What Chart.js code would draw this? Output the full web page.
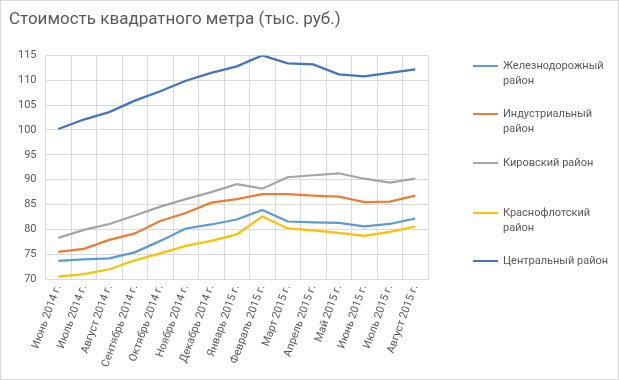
<!DOCTYPE html>
<html>
<head>
<meta charset="utf-8">
<script src="https://cdn.jsdelivr.net/npm/chart.js@4/dist/chart.umd.min.js"></script>
<style>
  html, body { margin: 0; padding: 0; background: #fff; }
  #wrap { position: relative; width: 619px; height: 380px; box-sizing: border-box; border: 1px solid #d9d9d9; background: #fff; overflow: hidden; }
  #cv { position: absolute; left: 0; top: 0; }
  #legend { position: absolute; left: 472px; top: 0; font-family: "Roboto", "Noto Sans", sans-serif; font-size: 11px; color: #595959; }
  .item { position: absolute; left: 0; width: 140px; }
  .item .mk { position: absolute; left: 0; width: 25px; height: 2px; top: 7px; }
  .item .tx { position: absolute; left: 30px; line-height: 15px; width: 112px; white-space: normal; }
</style>
</head>
<body>
<div id="wrap">
  <canvas id="cv" width="617" height="378"></canvas>
  <div id="legend"></div>
</div>
<script>
const categories = ["Июнь 2014 г.", "Июль 2014 г.", "Август 2014 г.", "Сентябрь 2014 г.", "Октябрь 2014 г.", "Ноябрь 2014 г.", "Декабрь 2014 г.", "Январь 2015 г.", "Февраль 2015 г.", "Март 2015 г.", "Апрель 2015 г.", "Май 2015 г.", "Июнь 2015 г.", "Июль 2015 г.", "Август 2015 г."];
const seriesNames = ["Железнодорожный район", "Индустриальный район", "Кировский район", "Краснофлотский район", "Центральный район"];
const zheleznodorozhny = [73.7, 74.0, 74.2, 75.4, 77.7, 80.2, 81.0, 82.0, 83.9, 81.6, 81.4, 81.3, 80.6, 81.1, 82.2];
const industrialny = [75.5, 76.1, 77.9, 79.2, 81.7, 83.3, 85.4, 86.1, 87.1, 87.1, 86.8, 86.6, 85.5, 85.6, 86.8];
const kirovsky = [78.3, 79.9, 81.1, 82.8, 84.6, 86.1, 87.5, 89.1, 88.2, 90.5, 90.9, 91.3, 90.2, 89.4, 90.2];
const krasnoflotsky = [70.5, 71.0, 72.0, 73.8, 75.2, 76.7, 77.7, 79.0, 82.6, 80.2, 79.8, 79.3, 78.7, 79.5, 80.6];
const centralny = [100.2, 102.1, 103.6, 105.9, 107.8, 109.9, 111.5, 112.8, 115.0, 113.4, 113.2, 111.2, 110.8, 111.5, 112.2];
const yTicks = [70, 75, 80, 85, 90, 95, 100, 105, 110, 115];
const titleText = "Стоимость квадратного метра (тыс. руб.)";

const colors = ["#5B9BD5", "#ED7D31", "#A5A5A5", "#FFC000", "#4472C4"];
const seriesData = [zheleznodorozhny, industrialny, kirovsky, krasnoflotsky, centralny];

const FONT = '"Roboto", "Noto Sans", sans-serif';
const datasets = seriesNames.map((n, i) => ({
  label: n,
  data: seriesData[i],
  borderColor: colors[i],
  backgroundColor: colors[i],
  borderWidth: 2.25,
  pointRadius: 0,
  tension: 0,
  fill: false
}));

const chart = new Chart(document.getElementById('cv'), {
  type: 'line',
  data: { labels: categories, datasets: datasets },
  options: {
    responsive: false,
    animation: false,
    layout: { padding: { left: 8, right: 190, top: 0, bottom: 6 } },
    plugins: {
      legend: { display: false },
      tooltip: { enabled: false },
      title: {
        display: true,
        text: titleText,
        align: 'start',
        color: '#595959',
        font: { family: FONT, size: 17, weight: 'normal' },
        padding: { top: 9, bottom: 25 }
      }
    },
    scales: {
      x: {
        offset: true,
        grid: { offset: true, color: '#d9d9d9', drawTicks: false, lineWidth: 1 },
        border: { color: '#d9d9d9' },
        ticks: {
          color: '#595959',
          font: { family: FONT, size: 11 },
          minRotation: 70,
          maxRotation: 70,
          autoSkip: false,
          padding: 4
        }
      },
      y: {
        min: 70,
        max: 115,
        afterBuildTicks: (s) => { s.ticks = yTicks.map(v => ({ value: v })); },
        grid: { color: '#d9d9d9', drawTicks: false, lineWidth: 1 },
        border: { display: false },
        ticks: {
          color: '#595959',
          font: { family: FONT, size: 11 },
          padding: 9
        }
      }
    }
  }
});

// legend (HTML, built from series names/colours)
const legendTops = [57, 105, 154, 204, 252];
const lg = document.getElementById('legend');
seriesNames.forEach((n, i) => {
  const d = document.createElement('div');
  d.className = 'item';
  d.style.top = legendTops[i] + 'px';
  const mk = document.createElement('div');
  mk.className = 'mk';
  mk.style.background = colors[i];
  const tx = document.createElement('div');
  tx.className = 'tx';
  tx.textContent = n;
  d.appendChild(mk); d.appendChild(tx);
  lg.appendChild(d);
});
</script>
</body>
</html>
